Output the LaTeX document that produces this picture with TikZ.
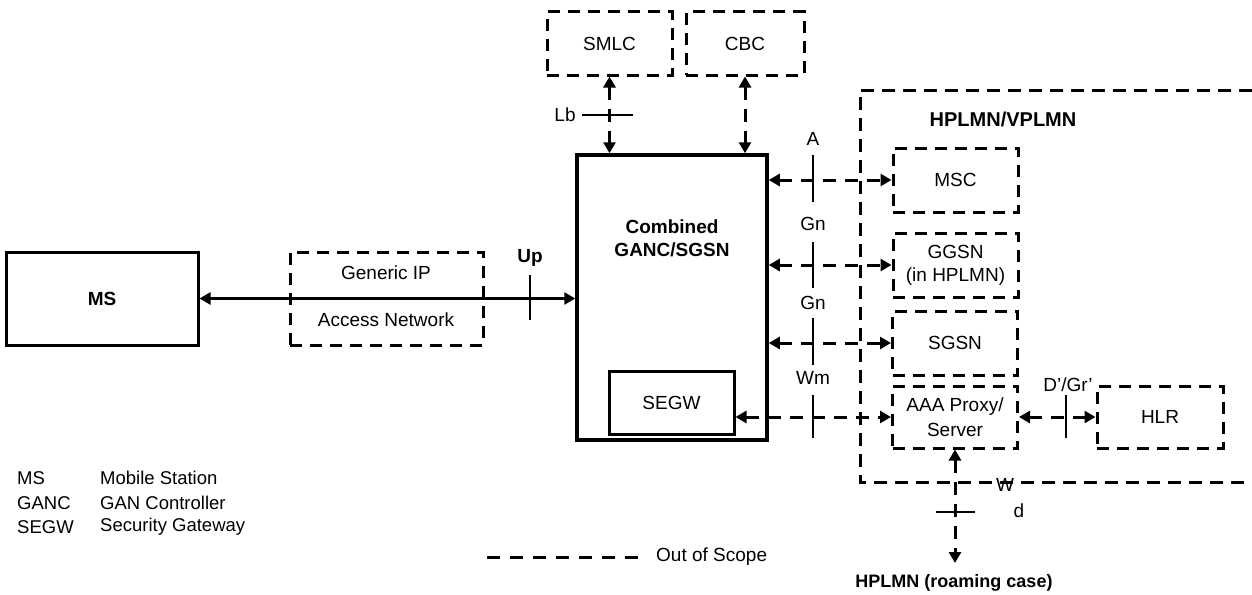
\documentclass[tikz,border=0pt]{standalone}
\usepackage{fontspec}
\setmainfont{Liberation Sans}
\usetikzlibrary{arrows.meta}
\begin{document}
\begin{tikzpicture}[x=1pt,y=-1pt,
  txt/.style={font=\fontsize{19}{23}\selectfont, align=center, inner sep=0pt},
  btxt/.style={font=\fontsize{19}{23}\selectfont\bfseries, align=center, inner sep=0pt},
  leg/.style={font=\fontsize{18.5}{22}\selectfont, inner sep=0pt, anchor=west},
  sbox/.style={draw, line width=3pt, inner sep=0pt, txt},
  dbox/.style={draw, line width=3pt, dash pattern=on 12pt off 8pt, inner sep=0pt, txt,
    minimum width=125pt, minimum height=63pt},
  dline/.style={line width=3pt, dash pattern=on 13pt off 8pt},
  tip/.style={},
  darr/.style={line width=3pt, dash pattern=on 13pt off 9pt,
    {Triangle[length=11pt,width=12pt]}-{Triangle[length=11pt,width=12pt]}},
  sarr/.style={line width=2.5pt,
    {Triangle[length=11pt,width=12pt]}-{Triangle[length=11pt,width=12pt]}},
  tick/.style={line width=1.4pt}
]
\useasboundingbox (0,0) rectangle (1252,594);

% main boxes
\node[sbox, minimum width=192pt, minimum height=93pt, btxt] (ms) at (102,298.5) {MS};
\node[dbox, minimum width=193pt, minimum height=93pt] (gip) at (386.5,298.5) {};
\node[txt] (giptop) at (386,273) {Generic IP};
\node[txt] (gipbot) at (386,320) {Access Network};
\node[sbox, line width=3.5pt, minimum width=190pt, minimum height=285pt] (comb) at (672,297.5) {};
\node[btxt] (combt) at (672,238.5) {Combined\\GANC/SGSN};
\node[sbox, minimum width=125pt, minimum height=63pt] (segw) at (671.5,402.5) {SEGW};

\node[dbox] (smlc) at (609.5,43.5) {SMLC};
\node[dbox, minimum width=118pt] (cbc) at (745,43.5) {CBC};

\node[dbox, minimum height=64pt] (msc) at (955.5,180) {MSC};
\node[dbox, minimum height=64pt] (ggsn) at (955.5,265) {GGSN\\(in HPLMN)};
\node[dbox, minimum height=64pt] (sgsn) at (955,343) {SGSN};
\node[dbox, minimum height=62pt, font=\fontsize{19}{25}\selectfont] (aaa) at (955,417) {AAA Proxy/\\Server};
\node[dbox, minimum width=126pt, minimum height=62pt] (hlr) at (1160,417) {HLR};

% HPLMN/VPLMN domain
\draw[dline] (1252,90) -- (860,90) -- (860,482) -- (1252,482);
\node[btxt, font=\fontsize{20}{23}\selectfont\bfseries] (hv) at (1003,119) {HPLMN/VPLMN};

% connectors
\draw[sarr] (ms.east) -- (ms.east -| comb.west);
\draw[darr] (smlc.south) -- (smlc.south |- comb.north);
\draw[darr] (cbc.south) -- (cbc.south |- comb.north);
\draw[darr] (comb.east |- msc.west) -- (msc.west);
\draw[darr] (comb.east |- ggsn.west) -- (ggsn.west);
\draw[darr] (comb.east |- sgsn.west) -- (sgsn.west);
\draw[darr] (segw.east |- aaa.west) -- (aaa.west);
\draw[darr] (aaa.east) -- (hlr.west);
\coordinate (wend) at (955,563);
\draw[darr] (aaa.south) -- (wend);

% interface ticks
\draw[tick] (530,275) -- (530,320);
\draw[tick] (582,115) -- (633,115);
\draw[tick] (813,155) -- (813,202);
\draw[tick] (813,242) -- (813,288);
\draw[tick] (813,318) -- (813,365);
\draw[tick] (813,395) -- (813,438);
\draw[tick] (1066,395) -- (1066,438);
\draw[tick] (936,512) -- (975,512);

% interface labels
\node[txt] (lb) at (565,115) {Lb};
\node[btxt] (up) at (530,258) {Up};
\node[txt] (la) at (813,139) {A};
\node[txt] (lgn1) at (813,224) {Gn};
\node[txt] (lgn2) at (813,303) {Gn};
\node[txt] (lwm) at (813,378) {Wm};
\node[txt] (ldgr) at (1068,385) {D’/Gr’};
\node[txt] (lw) at (1005,485) {W};
\node[txt] (ld) at (1019,511) {d};
\node[btxt, font=\fontsize{18}{22}\selectfont\bfseries] (roam) at (954,583) {HPLMN (roaming case)};

% legend
\node[leg] (k1) at (17,478) {MS};
\node[leg] (v1) at (100,478) {Mobile Station};
\node[leg] (k2) at (17,503) {GANC};
\node[leg] (v2) at (100,503) {GAN Controller};
\node[leg] (k3) at (17,527) {SEGW};
\node[leg] (v3) at (100,527) {Security Gateway};
\coordinate (ls) at (487,557);
\coordinate (le) at (640,557);
\draw[line width=3pt, dash pattern=on 13pt off 10pt] (ls) -- (le);
\node[leg, font=\fontsize{19}{22}\selectfont] (oos) at (656,557) {Out of Scope};
\end{tikzpicture}
\end{document}
